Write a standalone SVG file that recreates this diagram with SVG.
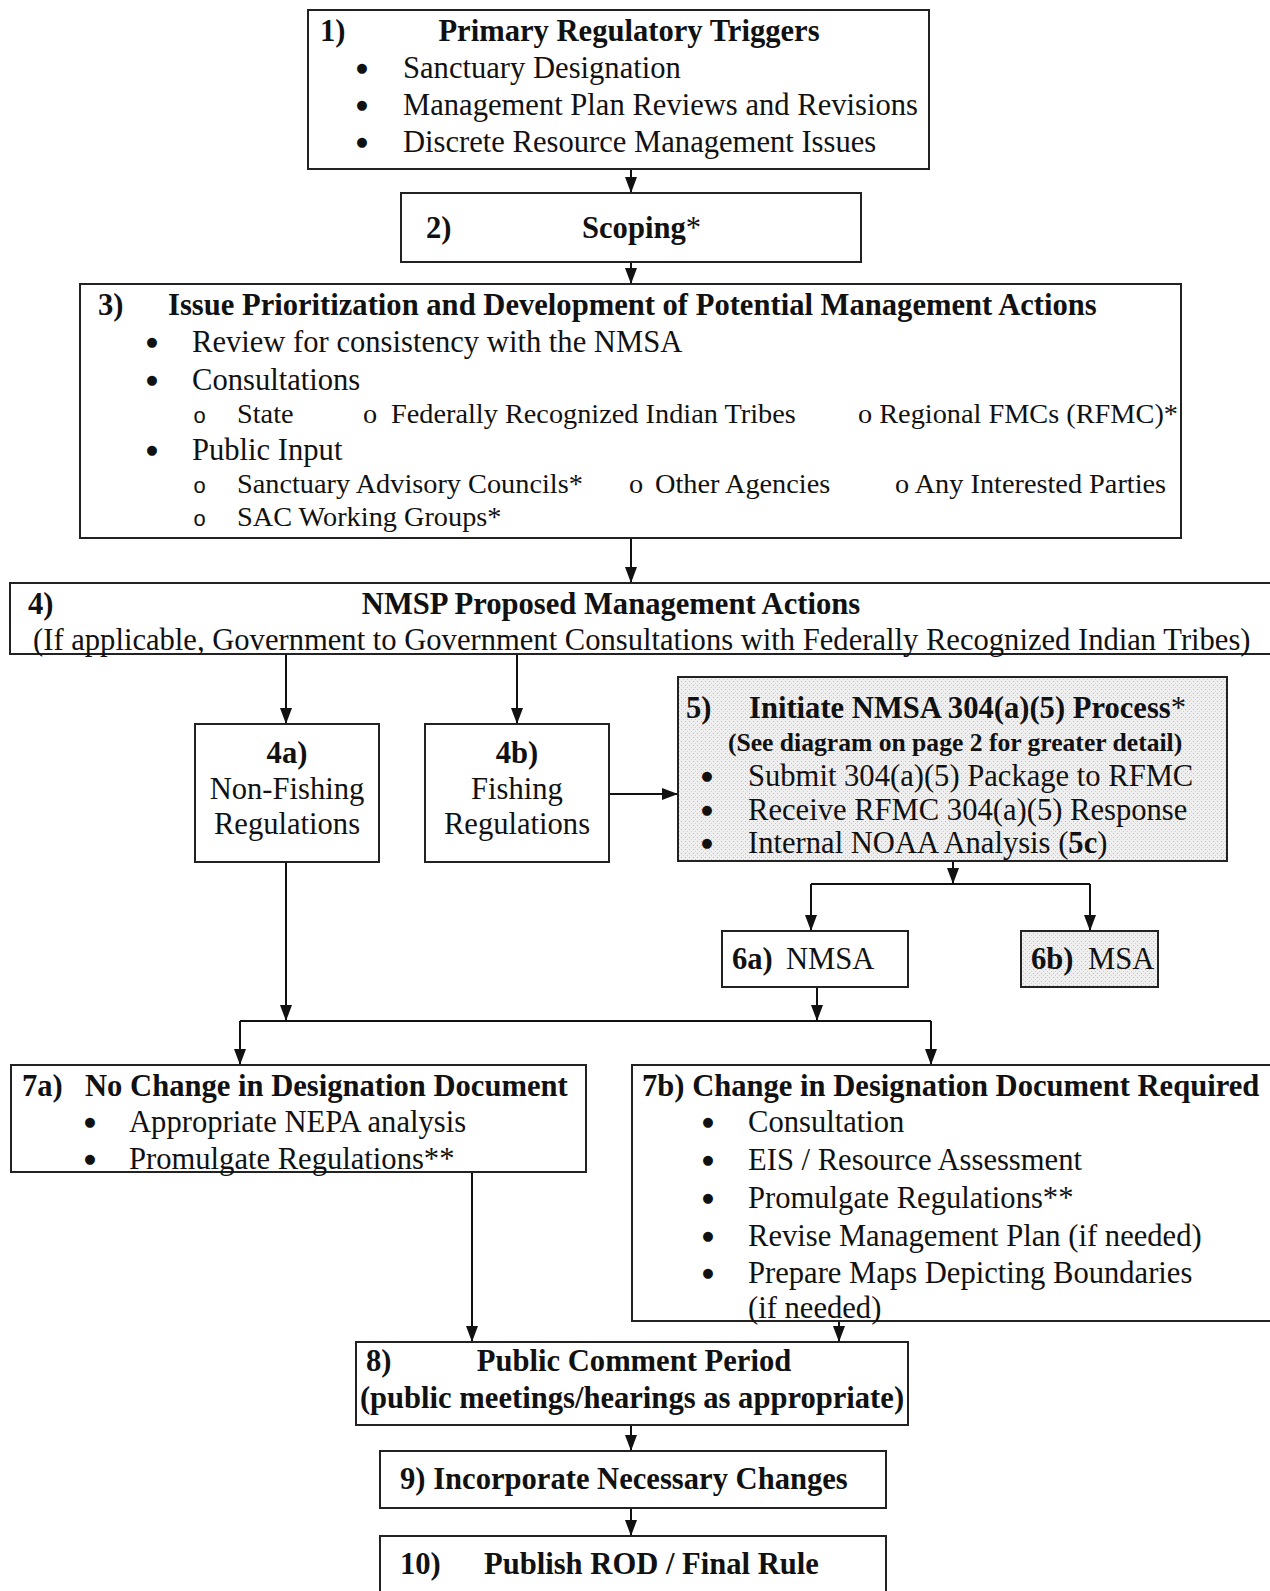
<svg xmlns="http://www.w3.org/2000/svg" width="1270" height="1591" viewBox="0 0 1270 1591">
<style>
text{font-family:"Liberation Serif","Times New Roman",serif;font-size:30.6px;fill:#111}
.b{font-weight:bold}
.s{font-size:28.3px}
.sb{font-size:25.6px;font-weight:bold}
.bu{font-family:"DejaVu Sans",sans-serif;font-size:13px;text-anchor:middle}
.box{fill:#fff;stroke:#222;stroke-width:2}
.shade{fill:url(#dots);stroke:#222;stroke-width:2}
.ln{fill:none;stroke:#111;stroke-width:2}
.ar{fill:none;stroke:#111;stroke-width:2;marker-end:url(#arr)}
.m{font-family:"Liberation Mono",monospace;font-size:22px}
</style>
<defs>
<marker id="arr" viewBox="0 0 16 12" refX="16" refY="6" markerWidth="16" markerHeight="12" orient="auto" markerUnits="userSpaceOnUse">
<path d="M0,0 L16,6 L0,12 z" fill="#111"/>
</marker>
<pattern id="dots" width="4" height="4" patternUnits="userSpaceOnUse">
<rect width="4" height="4" fill="#efefef"/>
<rect x="1" y="1" width="1" height="1" fill="#bbb"/>
<rect x="3" y="3" width="1" height="1" fill="#ccc"/>
</pattern>
</defs>

<g id="connectors">
<path class="ar" d="M631,169 V193"/>
<path class="ar" d="M631,262 V284"/>
<path class="ar" d="M631,538 V583"/>
<path class="ar" d="M286,654 V724"/>
<path class="ar" d="M517,654 V724"/>
<path class="ar" d="M609,794 H678"/>
<path class="ar" d="M953,861 V884"/>
<path class="ln" d="M811,884 H1090"/>
<path class="ar" d="M811,884 V931"/>
<path class="ar" d="M1090,884 V931"/>
<path class="ar" d="M817,987 V1021"/>
<path class="ar" d="M286,862 V1021"/>
<path class="ln" d="M240,1021 H931"/>
<path class="ar" d="M240,1021 V1065"/>
<path class="ar" d="M931,1021 V1065"/>
<path class="ar" d="M472,1172 V1342"/>
<path class="ar" d="M839,1321 V1342"/>
<path class="ar" d="M631,1425 V1451"/>
<path class="ar" d="M631,1508 V1536"/>
</g>

<g id="n1">
<rect class="box" x="308" y="10" width="621" height="159"/>
<text class="b" x="320" y="41">1)</text>
<text class="b" x="629" y="41" text-anchor="middle">Primary Regulatory Triggers</text>
<text class="bu" x="362" y="72">●</text><text x="403" y="78">Sanctuary Designation</text>
<text class="bu" x="362" y="109">●</text><text x="403" y="115">Management Plan Reviews and Revisions</text>
<text class="bu" x="362" y="146">●</text><text x="403" y="152">Discrete Resource Management Issues</text>
</g>

<g id="n2">
<rect class="box" x="401" y="193" width="460" height="69"/>
<text class="b" x="426" y="238">2)</text>
<text x="582" y="238"><tspan class="b">Scoping</tspan>*</text>
</g>

<g id="n3">
<rect class="box" x="80" y="284" width="1101" height="254"/>
<text class="b" x="98" y="315">3)</text>
<text class="b" x="168" y="315">Issue Prioritization and Development of Potential Management Actions</text>
<text class="bu" x="152" y="346">●</text><text x="192" y="352">Review for consistency with the NMSA</text>
<text class="bu" x="152" y="384">●</text><text x="192" y="390">Consultations</text>
<text class="m" x="193" y="423">o</text><text class="s" x="237" y="423">State</text>
<text class="s" x="363" y="423">o</text><text class="s" x="391" y="423">Federally Recognized Indian Tribes</text>
<text class="s" x="858" y="423">o Regional FMCs (RFMC)*</text>
<text class="bu" x="152" y="454">●</text><text x="192" y="460">Public Input</text>
<text class="m" x="193" y="493">o</text><text class="s" x="237" y="493">Sanctuary Advisory Councils*</text>
<text class="s" x="629" y="493">o</text><text class="s" x="655" y="493">Other Agencies</text>
<text class="s" x="895" y="493">o Any Interested Parties</text>
<text class="m" x="193" y="526">o</text><text class="s" x="237" y="526">SAC Working Groups*</text>
</g>

<g id="n4">
<rect class="box" x="10" y="583" width="1265" height="71"/>
<text class="b" x="28" y="614">4)</text>
<text class="b" x="611" y="614" text-anchor="middle">NMSP Proposed Management Actions</text>
<text x="33" y="650">(If applicable, Government to Government Consultations with Federally Recognized Indian Tribes)</text>
</g>

<g id="n4a">
<rect class="box" x="195" y="724" width="184" height="138"/>
<text class="b" x="287" y="763" text-anchor="middle">4a)</text>
<text x="287" y="799" text-anchor="middle">Non-Fishing</text>
<text x="287" y="834" text-anchor="middle">Regulations</text>
</g>

<g id="n4b">
<rect class="box" x="425" y="724" width="184" height="138"/>
<text class="b" x="517" y="763" text-anchor="middle">4b)</text>
<text x="517" y="799" text-anchor="middle">Fishing</text>
<text x="517" y="834" text-anchor="middle">Regulations</text>
</g>

<g id="n5">
<rect class="shade" x="678" y="677" width="549" height="184"/>
<text class="b" x="686" y="718">5)</text>
<text x="749" y="718"><tspan class="b">Initiate NMSA 304(a)(5) Process</tspan>*</text>
<text class="sb" x="728" y="751">(See diagram on page 2 for greater detail)</text>
<text class="bu" x="707" y="780">●</text><text x="748" y="786">Submit 304(a)(5) Package to RFMC</text>
<text class="bu" x="707" y="814">●</text><text x="748" y="820">Receive RFMC 304(a)(5) Response</text>
<text class="bu" x="707" y="847">●</text><text x="748" y="853">Internal NOAA Analysis (<tspan class="b">5c</tspan>)</text>
</g>

<g id="n6a">
<rect class="box" x="722" y="931" width="186" height="56"/>
<text class="b" x="732" y="969">6a)</text><text x="786" y="969">NMSA</text>
</g>

<g id="n6b">
<rect class="shade" x="1021" y="931" width="137" height="56"/>
<text class="b" x="1031" y="969">6b)</text><text x="1088" y="969">MSA</text>
</g>

<g id="n7a">
<rect class="box" x="11" y="1065" width="575" height="107"/>
<text class="b" x="22" y="1096">7a)</text>
<text class="b" x="85" y="1096">No Change in Designation Document</text>
<text class="bu" x="90" y="1126">●</text><text x="129" y="1132">Appropriate NEPA analysis</text>
<text class="bu" x="90" y="1163">●</text><text x="129" y="1169">Promulgate Regulations**</text>
</g>

<g id="n7b">
<rect class="box" x="632" y="1065" width="643" height="256"/>
<text class="b" x="642" y="1096">7b) Change in Designation Document Required</text>
<text class="bu" x="708" y="1126">●</text><text x="748" y="1132">Consultation</text>
<text class="bu" x="708" y="1164">●</text><text x="748" y="1170">EIS / Resource Assessment</text>
<text class="bu" x="708" y="1202">●</text><text x="748" y="1208">Promulgate Regulations**</text>
<text class="bu" x="708" y="1240">●</text><text x="748" y="1246">Revise Management Plan (if needed)</text>
<text class="bu" x="708" y="1277">●</text><text x="748" y="1283">Prepare Maps Depicting Boundaries</text>
<text x="748" y="1318">(if needed)</text>
</g>

<g id="n8">
<rect class="box" x="356" y="1342" width="552" height="83"/>
<text class="b" x="366" y="1371">8)</text>
<text class="b" x="634" y="1371" text-anchor="middle">Public Comment Period</text>
<text class="b" x="632" y="1408" text-anchor="middle">(public meetings/hearings as appropriate)</text>
</g>

<g id="n9">
<rect class="box" x="380" y="1451" width="506" height="57"/>
<text class="b" x="400" y="1489">9) Incorporate Necessary Changes</text>
</g>

<g id="n10">
<rect class="box" x="380" y="1536" width="506" height="70"/>
<text class="b" x="400" y="1574">10)</text>
<text class="b" x="484" y="1574">Publish ROD / Final Rule</text>
</g>
</svg>
